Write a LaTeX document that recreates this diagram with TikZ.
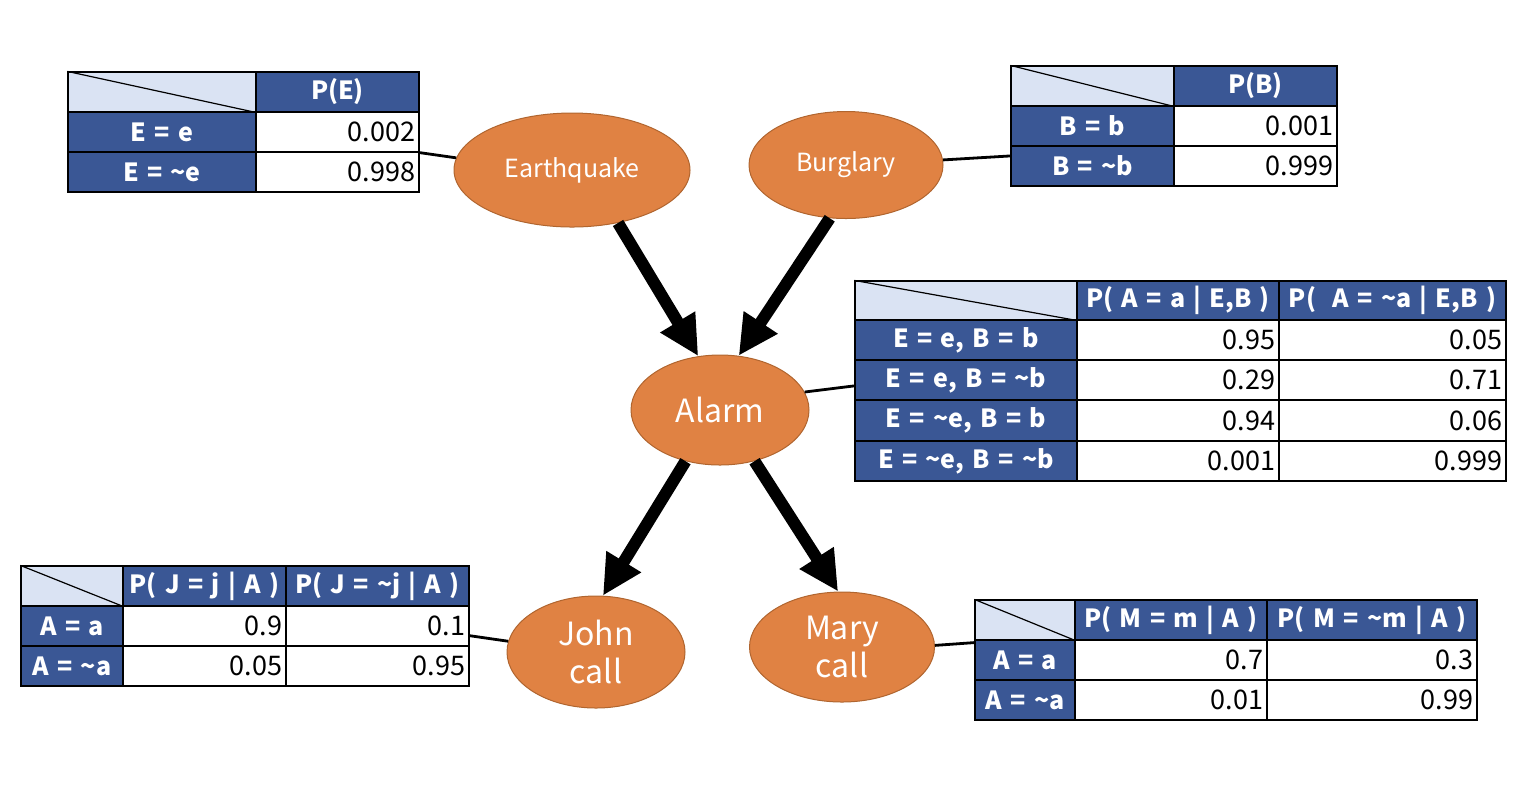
\documentclass[tikz,border=0pt]{standalone}
\usepackage{fontspec}
\setmainfont{Noto Sans CJK JP}
\usepackage{tikz}
\usetikzlibrary{shapes.geometric,arrows.meta}

\definecolor{tblue}{HTML}{3A5795}
\definecolor{tlight}{HTML}{DAE3F3}
\definecolor{norange}{HTML}{E08243}
\definecolor{nborder}{HTML}{B0652F}

% one table cell: name, style, x1, y1, x2, y2, text
\newcommand{\tcell}[7]{%
  \node[minimum width={(#5-#3)*0.5pt}, minimum height={(#6-#4)*0.5pt},
        text width={(#5-#3)*0.5pt-4pt}, #2] (#1) at ({(#3+#5)/2},{(#4+#6)/2}) {#7};}

\tikzset{
  cellbase/.style={draw=black, line width=0.6pt, inner xsep=1pt, inner ysep=0pt, rectangle},
  corner/.style={cellbase, fill=tlight},
  hdr/.style={cellbase, fill=tblue, text=white, align=center, font=\fontsize{12.5}{15}\selectfont\bfseries},
  val/.style={cellbase, fill=white, align=right, font=\fontsize{13.5}{15}\selectfont},
  bnode/.style={ellipse, draw=nborder, line width=0.5pt, fill=norange, text=white, align=center, inner sep=0pt},
  bigarrow/.style={line width=6pt, -{Triangle[length=20pt,width=19pt]}},
  link/.style={line width=1.4pt}
}

\begin{document}
\begin{tikzpicture}[x=0.5pt,y=-0.5pt]
  \useasboundingbox (0,0) rectangle (1534,784);

  % nodes of the network
  \node[bnode, minimum width=118pt, minimum height=57pt, font=\fontsize{12.5}{15}\selectfont] (eq) at (572,170) {Earthquake};
  \node[bnode, minimum width=97pt, minimum height=53.5pt, font=\fontsize{12.5}{15}\selectfont] (bg) at (846,165) {Burglary};
  \node[bnode, minimum width=89pt, minimum height=55pt, font=\fontsize{16}{19}\selectfont] (alarm) at (720,410) {Alarm};
  \node[bnode, minimum width=89pt, minimum height=56pt, font=\fontsize{16}{19}\selectfont] (john) at (596,652) {John\\call};
  \node[bnode, minimum width=92.5pt, minimum height=55pt, font=\fontsize{16}{19}\selectfont] (mary) at (842,647) {Mary\\call};

  % table P(E)
  \tcell{e00}{corner}{68}{72}{256}{112}{}
  \tcell{e01}{hdr}{256}{72}{419}{112}{P(E)}
  \tcell{e10}{hdr}{68}{112}{256}{152}{E = e}
  \tcell{e11}{val}{256}{112}{419}{152}{0.002}
  \tcell{e20}{hdr}{68}{152}{256}{192}{E = \textasciitilde e}
  \tcell{e21}{val}{256}{152}{419}{192}{0.998}
  \draw[line width=0.6pt] (e00.north west) -- (e00.south east);

  % table P(B)
  \tcell{b00}{corner}{1011}{66}{1174}{106}{}
  \tcell{b01}{hdr}{1174}{66}{1337}{106}{P(B)}
  \tcell{b10}{hdr}{1011}{106}{1174}{146}{B = b}
  \tcell{b11}{val}{1174}{106}{1337}{146}{0.001}
  \tcell{b20}{hdr}{1011}{146}{1174}{186}{B = \textasciitilde b}
  \tcell{b21}{val}{1174}{146}{1337}{186}{0.999}
  \draw[line width=0.6pt] (b00.north west) -- (b00.south east);

  % table P(A | E,B)
  \tcell{a00}{corner}{855}{281}{1077}{320}{}
  \tcell{a01}{hdr}{1077}{281}{1279}{320}{P( A = a | E,B )}
  \tcell{a02}{hdr}{1279}{281}{1506}{320}{P(\ \ A = \textasciitilde a | E,B )}
  \tcell{a10}{hdr}{855}{320}{1077}{360}{E = e, B = b}
  \tcell{a11}{val}{1077}{320}{1279}{360}{0.95}
  \tcell{a12}{val}{1279}{320}{1506}{360}{0.05}
  \tcell{a20}{hdr}{855}{360}{1077}{400}{E = e, B = \textasciitilde b}
  \tcell{a21}{val}{1077}{360}{1279}{400}{0.29}
  \tcell{a22}{val}{1279}{360}{1506}{400}{0.71}
  \tcell{a30}{hdr}{855}{400}{1077}{441}{E = \textasciitilde e, B = b}
  \tcell{a31}{val}{1077}{400}{1279}{441}{0.94}
  \tcell{a32}{val}{1279}{400}{1506}{441}{0.06}
  \tcell{a40}{hdr}{855}{441}{1077}{481}{E = \textasciitilde e, B = \textasciitilde b}
  \tcell{a41}{val}{1077}{441}{1279}{481}{0.001}
  \tcell{a42}{val}{1279}{441}{1506}{481}{0.999}
  \draw[line width=0.6pt] (a00.north west) -- (a00.south east);

  % table P(J | A)
  \tcell{j00}{corner}{21}{566}{123}{606}{}
  \tcell{j01}{hdr}{123}{566}{286}{606}{P( J = j | A )}
  \tcell{j02}{hdr}{286}{566}{469}{606}{P( J = \textasciitilde j | A )}
  \tcell{j10}{hdr}{21}{606}{123}{646}{A = a}
  \tcell{j11}{val}{123}{606}{286}{646}{0.9}
  \tcell{j12}{val}{286}{606}{469}{646}{0.1}
  \tcell{j20}{hdr}{21}{646}{123}{686}{A = \textasciitilde a}
  \tcell{j21}{val}{123}{646}{286}{686}{0.05}
  \tcell{j22}{val}{286}{646}{469}{686}{0.95}
  \draw[line width=0.6pt] (j00.north west) -- (j00.south east);

  % table P(M | A)
  \tcell{m00}{corner}{975}{600}{1075}{640}{}
  \tcell{m01}{hdr}{1075}{600}{1267}{640}{P( M = m | A )}
  \tcell{m02}{hdr}{1267}{600}{1477}{640}{P( M = \textasciitilde m | A )}
  \tcell{m10}{hdr}{975}{640}{1075}{680}{A = a}
  \tcell{m11}{val}{1075}{640}{1267}{680}{0.7}
  \tcell{m12}{val}{1267}{640}{1477}{680}{0.3}
  \tcell{m20}{hdr}{975}{680}{1075}{720}{A = \textasciitilde a}
  \tcell{m21}{val}{1075}{680}{1267}{720}{0.01}
  \tcell{m22}{val}{1267}{680}{1477}{720}{0.99}
  \draw[line width=0.6pt] (m00.north west) -- (m00.south east);

  % causal arrows
  \draw[bigarrow] (eq.-49) -- (alarm.112);
  \draw[bigarrow] (bg.-107) -- (alarm.71);
  \draw[bigarrow] (alarm.-124) -- (john.83);
  \draw[bigarrow] (alarm.-56) -- (mary.94);

  % links to the tables
  \draw[link] (e11.south east) -- (eq.174);
  \draw[link] (bg.3) -- (b20.173);
  \draw[link] (alarm.12) -- (a20.183);
  \draw[link] (j12.-6) -- (john.173);
  \draw[link] (mary.1) -- (m10.161);
\end{tikzpicture}
\end{document}
